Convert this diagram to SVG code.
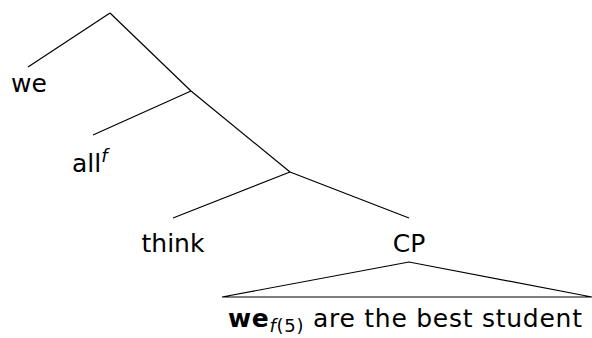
<svg xmlns="http://www.w3.org/2000/svg" width="592" height="338" viewBox="0 0 592 338">
<style>
.t{font-family:"DejaVu Sans","Liberation Sans",sans-serif;font-size:25px;fill:#000}
.e{stroke:#000;stroke-width:1.2;fill:none}
</style>
<rect width="592" height="338" fill="#fff"/>
<g id="connectors">
<line class="e" x1="110" y1="13" x2="28" y2="67"/>
<line class="e" x1="110" y1="13" x2="191" y2="91"/>
<line class="e" x1="191" y1="91" x2="93" y2="135"/>
<line class="e" x1="191" y1="91" x2="290" y2="172"/>
<line class="e" x1="290" y1="172" x2="173" y2="218"/>
<line class="e" x1="290" y1="172" x2="409" y2="218"/>
<polygon class="e" points="409,262 222,297 592,297"/>
</g>
<g id="n-we"><text class="t" x="29" y="92" text-anchor="middle">we</text></g>
<g id="n-all"><text class="t" x="72" y="172">all<tspan font-style="italic" font-size="18" dy="-10">f</tspan></text></g>
<g id="n-think"><text class="t" x="173" y="252" text-anchor="middle">think</text></g>
<g id="n-cp"><text class="t" x="409" y="252" text-anchor="middle">CP</text></g>
<g id="n-clause"><text class="t" x="228" y="327" textLength="354" lengthAdjust="spacing"><tspan font-weight="bold">we</tspan><tspan font-size="18" dy="5"><tspan font-style="italic">f</tspan>(5)</tspan><tspan dy="-5"> are the best student</tspan></text></g>
</svg>
